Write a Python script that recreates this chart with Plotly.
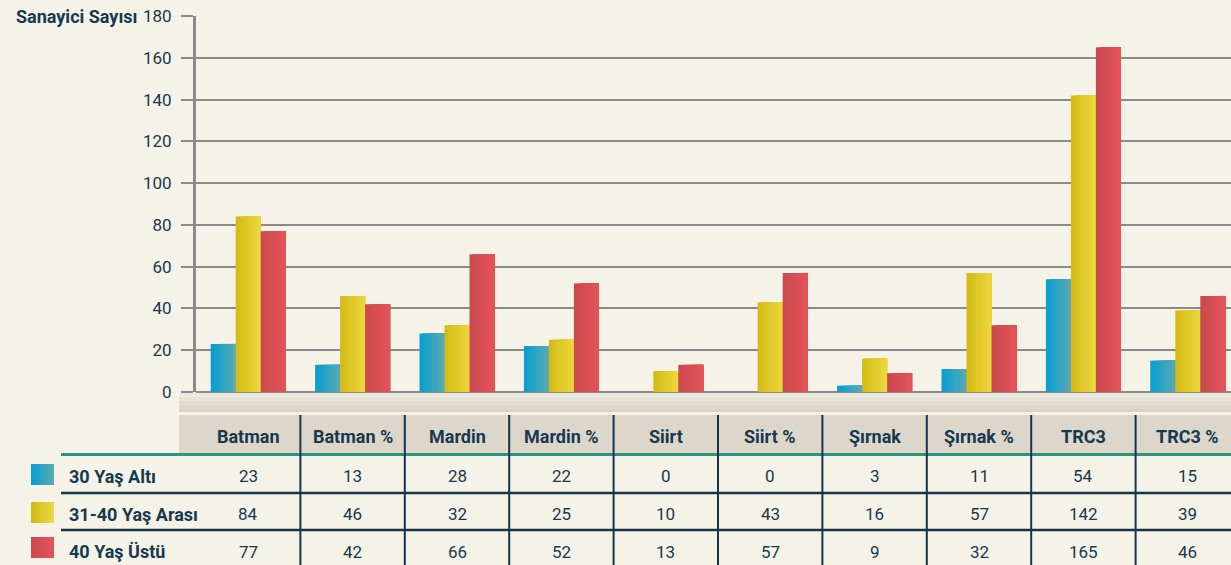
import plotly.graph_objects as go

# ---------------- data ----------------
categories = ['Batman', 'Batman %', 'Mardin', 'Mardin %', 'Siirt', 'Siirt %',
              'Şırnak', 'Şırnak %', 'TRC3', 'TRC3 %']
series_names = ['30 Yaş Altı', '31-40 Yaş Arası', '40 Yaş Üstü']
yas_30_alti = [23, 13, 28, 22, 0, 0, 3, 11, 54, 15]
yas_31_40 = [84, 46, 32, 25, 10, 43, 16, 57, 142, 39]
yas_40_ustu = [77, 42, 66, 52, 13, 57, 9, 32, 165, 46]
y_tick_values = [0, 20, 40, 60, 80, 100, 120, 140, 160, 180]
y_title = 'Sanayici Sayısı'

# ---------------- style ----------------
W, H = 1231, 565
L = 196
CAT_PX = 104.4
BG = '#f5f3e7'
NAVY = '#163950'
GRID = '#8a8a8a'
FONT = 'Roboto, Liberation Sans, sans-serif'
series_colors = [('#0a9fd0', '#57a9b3'), ('#d5bb17', '#ecd63b'), ('#cc4a4f', '#e25358')]


def fx(px):
    return (px - L) / (W - L)


def fy(py):
    return 1 - py / H


def mix(c0, c1, t):
    a = [int(c0[i:i + 2], 16) for i in (1, 3, 5)]
    b = [int(c1[i:i + 2], 16) for i in (1, 3, 5)]
    return '#' + ''.join('%02x' % round(a[k] + (b[k] - a[k]) * t) for k in range(3))


fig = go.Figure()

series_values = [yas_30_alti, yas_31_40, yas_40_ustu]
bw = 25 / CAT_PX
N = 8
for s, vals in enumerate(series_values):
    c0, c1 = series_colors[s]
    left = -1.5 * bw + s * bw
    for j in range(N):
        t = j / (N - 1)
        fig.add_trace(go.Bar(
            x=categories, y=vals,
            offset=left + j * bw / N, width=bw - j * bw / N,
            marker=dict(color=mix(c0, c1, t), line=dict(width=0)),
            name=series_names[s], showlegend=False, hoverinfo='skip'))

shapes = []
# floor
floor_cols = ['#ece9e0', '#e6e3d8', '#e1ddd1', '#dcd8cb', '#d8d3c6']
fh = (412 - 393) / len(floor_cols)
for i, c in enumerate(floor_cols):
    shapes.append(dict(type='rect', xref='paper', yref='paper', x0=fx(179), x1=1,
                       y0=fy(393 + (i + 1) * fh), y1=fy(393 + i * fh),
                       fillcolor=c, line=dict(width=0), layer='above'))
# header background
shapes.append(dict(type='rect', xref='paper', yref='paper', x0=fx(179), x1=1,
                   y0=fy(453), y1=fy(415), fillcolor='#ddd6ca', line=dict(width=0)))
# teal line
shapes.append(dict(type='line', xref='paper', yref='paper', x0=fx(61), x1=1,
                   y0=fy(454.5), y1=fy(454.5), line=dict(color='#2a9682', width=3)))
# row lines
for py in (493, 530):
    shapes.append(dict(type='line', xref='paper', yref='paper', x0=fx(61), x1=1,
                       y0=fy(py), y1=fy(py), line=dict(color='#16344a', width=2.5)))
# column separators
for k in range(len(categories) - 1):
    shapes.append(dict(type='line', xref='x', yref='paper', x0=k + 0.5, x1=k + 0.5,
                       y0=0, y1=fy(415), line=dict(color='#16344a', width=2)))
# legend swatches
sw_rows = [(464, 485), (502, 523), (537, 558)]
for s, (ya, yb) in enumerate(sw_rows):
    c0, c1 = series_colors[s]
    for j in range(N):
        t = j / (N - 1)
        shapes.append(dict(type='rect', xref='paper', yref='paper',
                           x0=fx(31 + j * 23 / N), x1=fx(54), y0=fy(yb), y1=fy(ya),
                           fillcolor=mix(c0, c1, t), line=dict(width=0)))

annotations = []
annotations.append(dict(text=y_title, xref='paper', yref='paper', x=fx(14), y=fy(17),
                        xanchor='left', yanchor='middle', showarrow=False,
                        font=dict(family=FONT, size=18, color=NAVY, weight=700)))
for c in categories:
    annotations.append(dict(text=c, xref='x', yref='paper', x=c, y=fy(436),
                            xanchor='center', yanchor='middle', showarrow=False,
                            font=dict(family=FONT, size=18, color=NAVY, weight=700)))
row_y = [476, 514, 551.5]
for s, vals in enumerate(series_values):
    annotations.append(dict(text=series_names[s], xref='paper', yref='paper', x=fx(67),
                            y=fy(row_y[s]), xanchor='left', yanchor='middle', showarrow=False,
                            font=dict(family=FONT, size=18, color=NAVY, weight=700)))
    for c, v in zip(categories, vals):
        annotations.append(dict(text=str(v), xref='x', yref='paper', x=c, y=fy(row_y[s]),
                                xanchor='center', yanchor='middle', showarrow=False,
                                font=dict(family=FONT, size=17, color=NAVY)))

fig.update_layout(
    width=W, height=H,
    margin=dict(l=L, r=0, t=0, b=0, pad=0, autoexpand=False),
    paper_bgcolor=BG, plot_bgcolor=BG,
    barmode='overlay',
    showlegend=False,
    shapes=shapes,
    annotations=annotations,
    xaxis=dict(type='category', range=[-0.5, -0.5 + (W - L) / CAT_PX], automargin=False,
               showticklabels=False, showgrid=False, zeroline=False, showline=False,
               ticks='', fixedrange=True),
    yaxis=dict(range=[0, 180], domain=[fy(392), fy(16)], automargin=False,
               tickvals=y_tick_values, ticks='outside', ticklen=12, tickwidth=2,
               tickcolor=GRID, showgrid=True, gridcolor=GRID, gridwidth=2,
               zeroline=True, zerolinecolor=GRID, zerolinewidth=2,
               showline=True, linecolor=GRID, linewidth=3,
               ticklabelstandoff=6, fixedrange=True,
               tickfont=dict(family=FONT, size=17, color=NAVY)),
)

fig.write_html('out.html', config={'displayModeBar': False},
               post_script="document.body.style.margin='0';document.body.style.overflow='hidden';")
